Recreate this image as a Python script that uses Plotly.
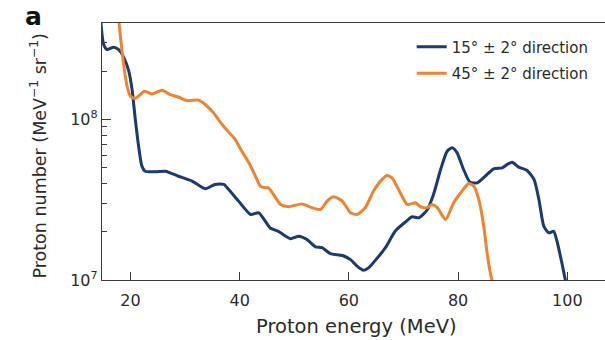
import plotly.graph_objects as go

# Proton energy (MeV) and proton number (MeV^-1 sr^-1)
energy_15 = [14.6, 15.1, 15.7, 16.9, 17.8, 18.8, 19.7, 20.3, 20.9, 21.5, 22.1, 22.7, 24.6, 26.4,
             28.8, 31.3, 33.7, 35.5, 37.1, 38.0, 39.8, 42.0, 43.5, 45.6, 47.1, 49.3, 50.8, 52.3,
             53.9, 55.1, 56.6, 58.8, 60.3, 61.5, 62.7, 63.6, 65.2, 66.7, 68.5, 70.3, 71.6, 72.8,
             74.3, 75.5, 76.8, 78.0, 78.9, 79.8, 81.0, 82.2, 83.5, 85.0, 86.5, 88.1, 89.0, 89.9,
             91.1, 92.6, 93.9, 94.8, 95.7, 96.6, 97.5, 98.1, 99.0, 99.65, 99.85]
number_15 = [4.0e8, 2.93e8, 2.73e8, 2.82e8, 2.73e8, 2.43e8, 2.0e8, 1.54e8, 1.0e8, 6.83e7, 5.12e7,
             4.76e7, 4.72e7, 4.76e7, 4.43e7, 4.13e7, 3.70e7, 3.94e7, 3.94e7, 3.66e7, 3.10e7,
             2.56e7, 2.62e7, 2.11e7, 2.01e7, 1.81e7, 1.87e7, 1.79e7, 1.61e7, 1.59e7, 1.46e7,
             1.42e7, 1.34e7, 1.22e7, 1.15e7, 1.19e7, 1.37e7, 1.59e7, 2.02e7, 2.29e7, 2.48e7,
             2.44e7, 2.72e7, 3.41e7, 4.88e7, 6.34e7, 6.66e7, 6.21e7, 4.88e7, 4.06e7, 4.03e7,
             4.44e7, 4.93e7, 5.0e7, 5.25e7, 5.42e7, 5.05e7, 4.83e7, 4.23e7, 3.17e7, 2.16e7,
             1.97e7, 2.01e7, 1.75e7, 1.28e7, 1.0e7, 9.5e6]

energy_45 = [17.5, 18.3, 18.8, 19.4, 20.0, 20.8, 21.5, 22.6, 24.0, 25.8, 27.3, 28.8, 30.4, 32.5,
             33.7, 35.2, 36.8, 38.0, 39.2, 40.4, 41.7, 42.9, 43.8, 44.7, 45.3, 46.2, 47.5, 49.0,
             51.4, 53.3, 54.8, 56.0, 57.2, 58.8, 60.3, 61.5, 63.0, 64.5, 65.8, 67.0, 67.9, 69.1,
             70.7, 72.2, 73.1, 74.3, 75.2, 76.2, 77.7, 79.2, 80.7, 81.9, 82.9, 83.8, 84.7, 85.3,
             85.9, 86.2, 86.4]
number_45 = [5.5e8, 3.0e8, 2.15e8, 1.61e8, 1.40e8, 1.35e8, 1.40e8, 1.50e8, 1.44e8, 1.52e8, 1.43e8,
             1.38e8, 1.31e8, 1.32e8, 1.24e8, 1.10e8, 9.31e7, 8.34e7, 7.5e7, 6.34e7, 5.37e7,
             4.43e7, 3.84e7, 3.75e7, 3.75e7, 3.41e7, 2.95e7, 2.86e7, 2.98e7, 2.82e7, 2.75e7,
             3.10e7, 3.30e7, 3.10e7, 2.62e7, 2.56e7, 2.82e7, 3.57e7, 4.13e7, 4.48e7, 4.33e7,
             3.66e7, 2.95e7, 3.03e7, 2.86e7, 2.82e7, 2.95e7, 2.82e7, 2.38e7, 3.03e7, 3.57e7,
             3.99e7, 3.84e7, 3.17e7, 2.16e7, 1.48e7, 1.11e7, 1.0e7, 9.5e6]

x_ticks = [20, 40, 60, 80, 100]
y_ticks = [1e7, 1e8]
y_ticktext = ["10<sup>7</sup>", "10<sup>8</sup>"]
y_minor = [2e7, 3e7, 4e7, 5e7, 6e7, 7e7, 8e7, 9e7, 2e8, 3e8, 4e8]

BLUE = "#1b3a70"
ORANGE = "#ef8430"
TEXT = "#2b2b2b"
AXIS = "#3a3a3a"
FONT = "DejaVu Sans"

fig = go.Figure()
fig.add_trace(go.Scatter(x=energy_15, y=number_15, mode="lines", name="15° ± 2° direction",
                         legendgroup="a", line=dict(color=BLUE, width=3, shape="spline", smoothing=0.6)))
fig.add_trace(go.Scatter(x=energy_45, y=number_45, mode="lines", name="45° ± 2° direction",
                         legendgroup="b", line=dict(color=ORANGE, width=3, shape="spline", smoothing=0.6)))

fig.update_layout(
    width=605, height=340,
    margin=dict(l=102, r=0, t=23, b=60),
    paper_bgcolor="white", plot_bgcolor="white",
    font=dict(family=FONT, color=TEXT, size=16),
    showlegend=True,
    legend=dict(x=(411.7 - 102) / 503, y=(280.5 - 31) / 257, xanchor="left", yanchor="top",
                bgcolor="rgba(0,0,0,0)", font=dict(size=15, color=TEXT),
                tracegroupgap=4, itemwidth=30),
    xaxis=dict(range=[14.8, 106.9], tickmode="array", tickvals=x_ticks,
               ticks="inside", ticklen=8, tickwidth=1.2, tickcolor=AXIS,
               showline=True, linecolor=AXIS, linewidth=1.3, mirror=True,
               showgrid=False, zeroline=False, tickfont=dict(size=16, color=TEXT),
               ticklabelstandoff=6),
    yaxis=dict(type="log", range=[7, 8.601], tickmode="array", tickvals=y_ticks,
               ticktext=y_ticktext, ticks="inside", ticklen=9, tickwidth=1.2, tickcolor=AXIS,
               minor=dict(tickmode="array", tickvals=y_minor, ticks="inside", ticklen=5,
                          tickwidth=1.1, tickcolor=AXIS),
               showline=True, linecolor=AXIS, linewidth=1.3,
               showgrid=False, zeroline=False, tickfont=dict(size=16, color=TEXT)),
    annotations=[
        dict(text="Proton energy (MeV)", xref="paper", yref="paper",
             x=(356 - 102) / 503, y=(280.5 - 327) / 257, xanchor="center", yanchor="middle",
             showarrow=False, font=dict(size=19.5, color=TEXT)),
        dict(text="Proton number (MeV<sup>−1</sup> sr<sup>−1</sup>)", xref="paper", yref="paper",
             x=(39 - 102) / 503, y=(280.5 - 157) / 257, xanchor="center", yanchor="middle",
             textangle=-90, showarrow=False, font=dict(size=17.5, color=TEXT)),
        dict(text="<b>a</b>", xref="paper", yref="paper",
             x=(23 - 102) / 503, y=(280.5 - 17) / 257, xanchor="left", yanchor="middle",
             showarrow=False, font=dict(size=25, color="#111111")),
    ],
)

fig.write_html("out.html")
